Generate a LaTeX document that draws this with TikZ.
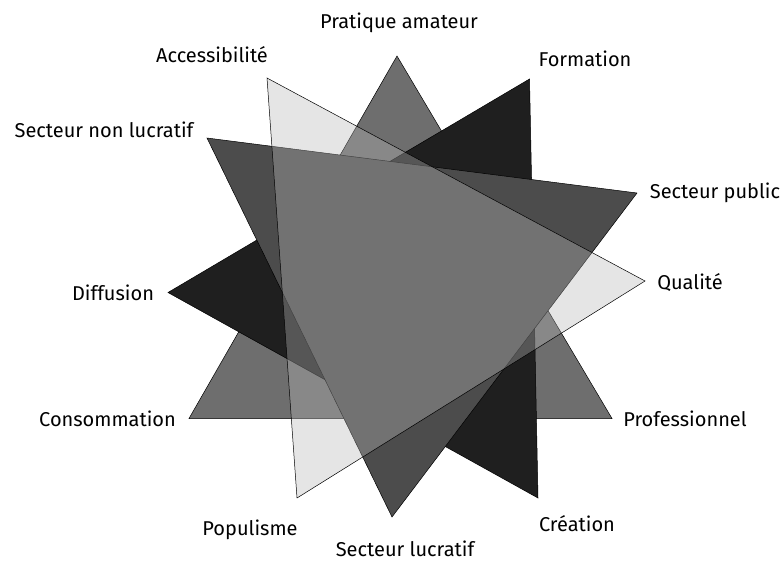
\documentclass[tikz,border=0pt]{standalone}
\usepackage{fontspec}
\setmainfont{Fira Sans}
\usetikzlibrary{positioning}
\definecolor{amateurgray}{gray}{0.43}
\definecolor{formationblack}{gray}{0.12}
\definecolor{secteurgray}{gray}{0.30}
\definecolor{accesgray}{gray}{0.72}

\begin{document}
\begin{tikzpicture}[x=1pt, y=-1pt,
    tri/.style={draw=black, line width=0.5pt, line join=miter},
    lbl/.style={font=\fontsize{20}{24}\selectfont, inner sep=0pt}]
  \fill[white] (0,0) rectangle (783,563);
  \useasboundingbox (0,0) rectangle (783,563);

  % the twelve apexes
  \coordinate (amateur) at (397,56);
  \coordinate (consommation) at (189,418.5);
  \coordinate (professionnel) at (612,418.5);
  \coordinate (formation) at (529.5,79);
  \coordinate (diffusion) at (168,292.5);
  \coordinate (creation) at (538,498);
  \coordinate (nonlucratif) at (207,138);
  \coordinate (public) at (637,193);
  \coordinate (lucratif) at (392,517);
  \coordinate (accessibilite) at (267,78);
  \coordinate (qualite) at (645,281);
  \coordinate (populisme) at (297,498);

  % 4 triangles, the last one see-through
  \filldraw[tri, fill=amateurgray] (amateur) -- (consommation) -- (professionnel) -- cycle;
  \filldraw[tri, fill=formationblack] (formation) -- (diffusion) -- (creation) -- cycle;
  \filldraw[tri, fill=secteurgray] (nonlucratif) -- (public) -- (lucratif) -- cycle;
  \fill[accesgray, fill opacity=0.36] (accessibilite) -- (qualite) -- (populisme) -- cycle;
  \draw[tri] (accessibilite) -- (qualite) -- (populisme) -- cycle;

  % labels
  \node[lbl] (lamateur) at (399,23) {Pratique amateur};
  \node[lbl] (laccess) at (212,55) {Accessibilité};
  \node[lbl] (lformation) at (585,59) {Formation};
  \node[lbl] (lnonlucratif) at (104,130) {Secteur non lucratif};
  \node[lbl] (lpublic) at (715,193) {Secteur public};
  \node[lbl] (lqualite) at (690,283) {Qualité};
  \node[lbl] (ldiffusion) at (113,293) {Diffusion};
  \node[lbl] (lconso) at (107.5,419) {Consommation};
  \node[lbl] (lpro) at (685,419) {Professionnel};
  \node[lbl] (lpopulisme) at (250,530) {Populisme};
  \node[lbl] (lcreation) at (577,524) {Création};
  \node[lbl] (llucratif) at (405,549) {Secteur lucratif};
\end{tikzpicture}
\end{document}
